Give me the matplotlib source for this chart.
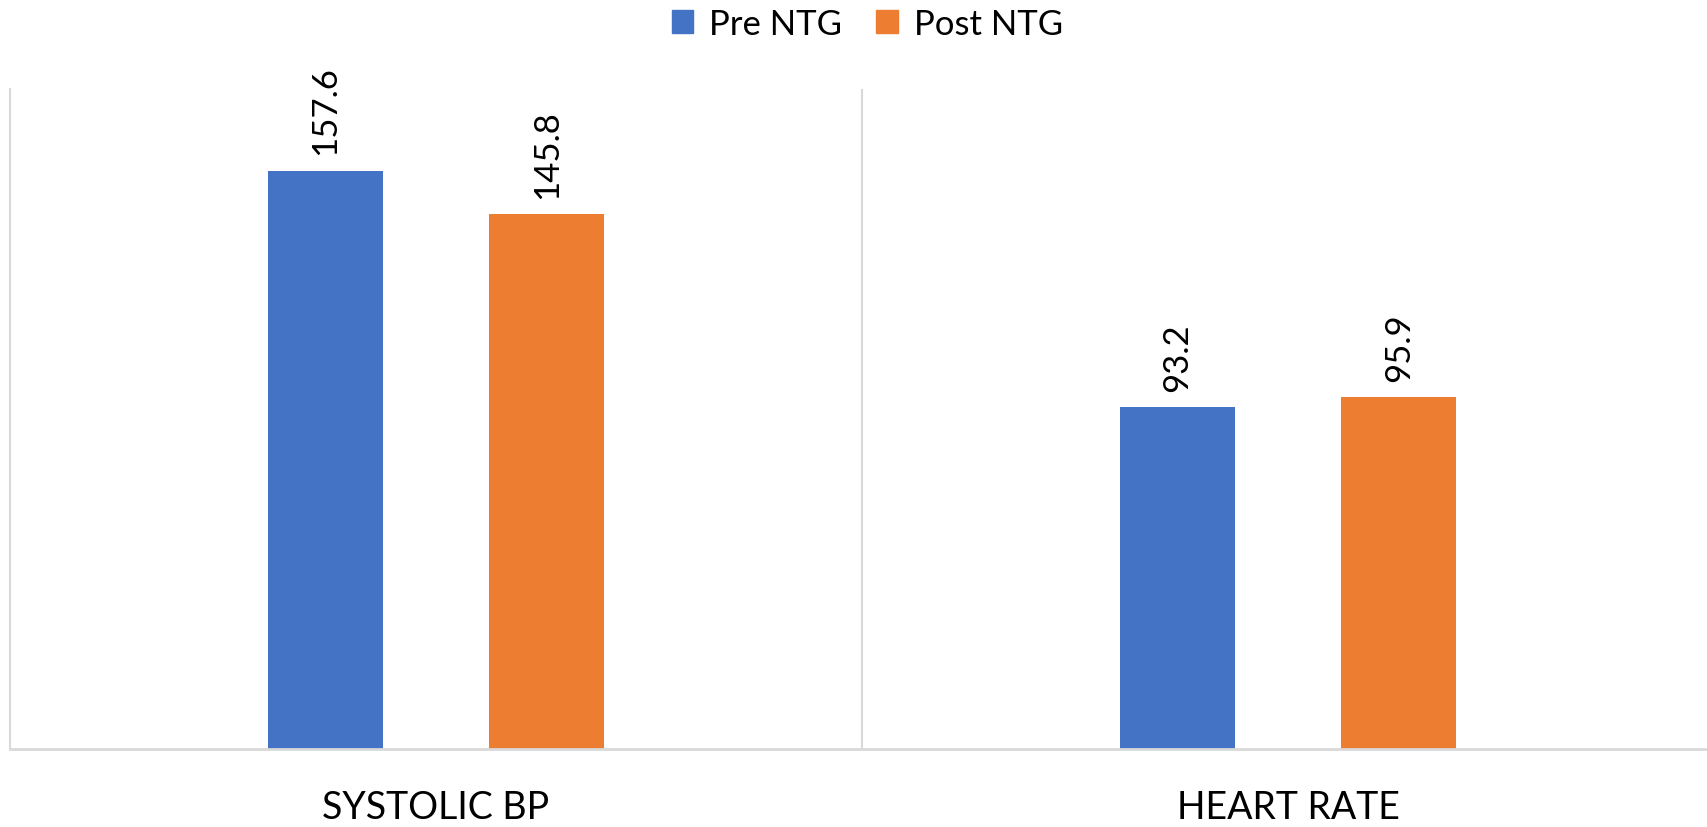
import numpy as np
import matplotlib.pyplot as plt
from matplotlib.patches import Patch

categories = ['SYSTOLIC BP', 'HEART RATE']
pre_ntg = [157.6, 93.2]
post_ntg = [145.8, 95.9]
series = ['Pre NTG', 'Post NTG']
colors = ['#4472C4', '#ED7D31']

plt.rcParams['font.family'] = ['Lato', 'DejaVu Sans']

fig = plt.figure(figsize=(17.07, 8.28), dpi=100)
ax = fig.add_axes([10/1707, 78/828, 1704/1707, 660/828])

x = np.arange(len(categories))
w = 0.135
off = 0.13
b1 = ax.bar(x - off, pre_ntg, w, color=colors[0])
b2 = ax.bar(x + off, post_ntg, w, color=colors[1])
for b in (b1, b2):
  ax.bar_label(b, labels=['{:.1f}'.format(v) for v in b.datavalues],
               rotation=90, padding=12, fontsize=25)

ax.set_xlim(-0.5, 1.5)
ax.set_ylim(0, 180)
ax.set_xticks(x)
ax.set_xticklabels(categories, fontsize=27)
ax.tick_params(axis='x', length=0, pad=29)
ax.set_yticks([])

# category separators
ax.axvline(0.5, color='#d9d9d9', lw=1.5, zorder=0)
for s in ['top', 'right']:
  ax.spines[s].set_visible(False)
ax.spines['left'].set_color('#d9d9d9')
ax.spines['left'].set_linewidth(1.5)
ax.spines['bottom'].set_color('#d9d9d9')
ax.spines['bottom'].set_linewidth(2)

handles = [Patch(color=c) for c in colors]
fig.legend(handles, series, loc='center', bbox_to_anchor=(0.508, 0.970),
           ncol=2, frameon=False, fontsize=25, handlelength=0.62,
           handleheight=0.62, handletextpad=0.45, columnspacing=1.0)

fig.savefig('out.png', dpi=100)
